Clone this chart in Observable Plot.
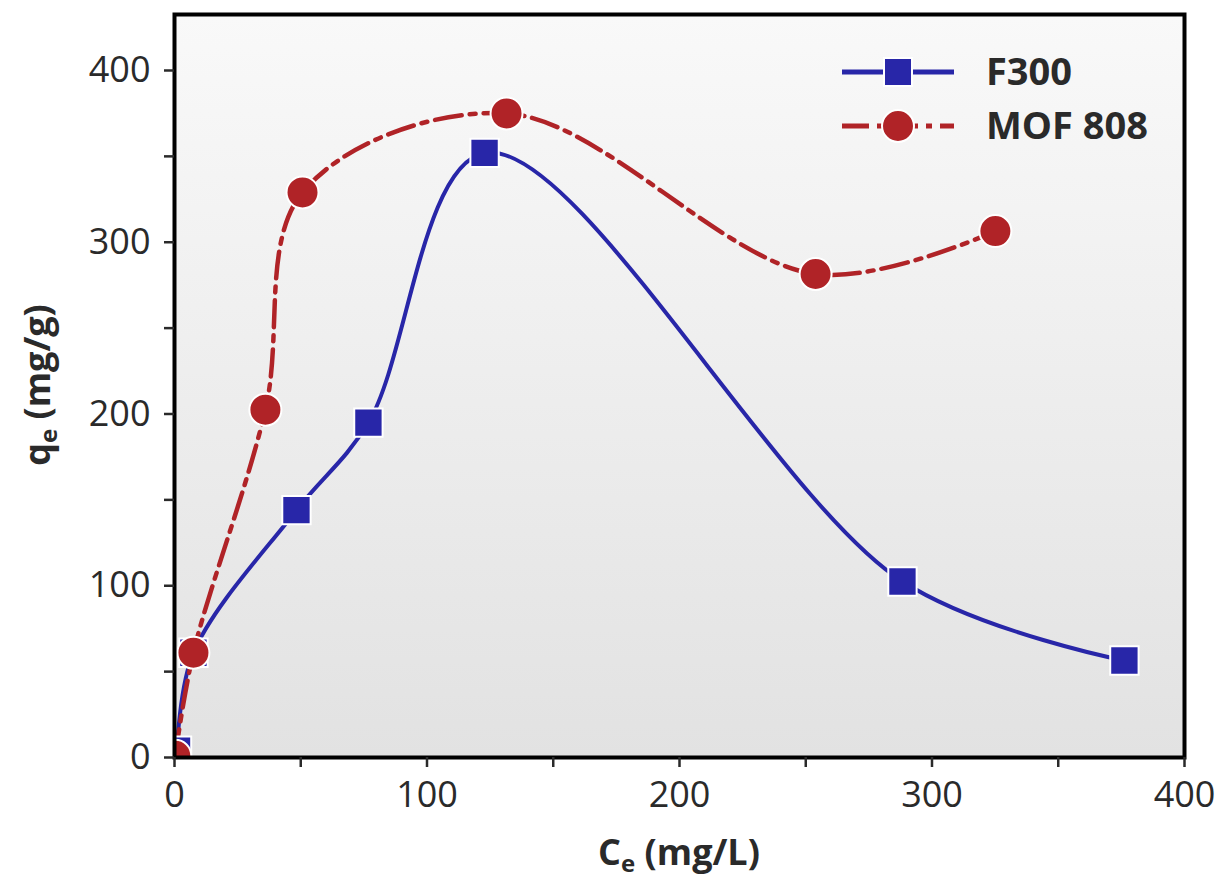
<!DOCTYPE html>
<html><head><meta charset="utf-8">
<script src="https://cdn.jsdelivr.net/npm/d3@7"></script>
<script src="https://cdn.jsdelivr.net/npm/@observablehq/plot@0.6"></script>
<style>
body{margin:0;background:#fff;font-family:"Open Sans",sans-serif;}
</style></head><body><div id="chart"></div>
<script>
const seriesNames = ["F300", "MOF 808"];
const f300Ce = [1, 7.5, 48.3, 76.8, 122.8, 288.3, 376.2];
const f300Qe = [4, 61, 144, 195, 352, 102.5, 56.5];
const mofCe = [0.3, 7.5, 36, 50.7, 131.5, 253.9, 325.1];
const mofQe = [1, 61, 202.5, 329, 375, 281.5, 306.5];
const xTicks = [0, 50, 100, 150, 200, 250, 300, 350, 400];
const yTicks = [0, 50, 100, 150, 200, 250, 300, 350, 400];
const colors = {"F300": "#2826a8", "MOF 808": "#b02327"};
const dashPattern = "27,8,6,8";

const f300 = f300Ce.map((c, i) => ({ce: c, qe: f300Qe[i]}));
const mof = mofCe.map((c, i) => ({ce: c, qe: mofQe[i]}));

const W = 1220, H = 877;
const chart = Plot.plot({
  width: W, height: H,
  marginLeft: 174, marginRight: 36, marginTop: 14, marginBottom: 120,
  style: {fontFamily: "Open Sans", background: "transparent", overflow: "visible"},
  x: {domain: [0, 400]},
  y: {domain: [0, 432.6]},
  marks: [
    Plot.frame({fill: "url(#bggrad)", stroke: null}),
    Plot.line(f300, {x: "ce", y: "qe", stroke: colors["F300"], strokeWidth: 4, curve: "catmull-rom", clip: "frame"}),
    Plot.line(mof, {x: "ce", y: "qe", stroke: colors["MOF 808"], strokeWidth: 4.5, curve: "catmull-rom", strokeDasharray: dashPattern, clip: "frame"}),
    Plot.dot(f300, {x: "ce", y: "qe", symbol: "square", r: 16, fill: colors["F300"], stroke: "white", strokeWidth: 2, clip: "frame"}),
    Plot.dot(mof, {x: "ce", y: "qe", symbol: "circle", r: 16, fill: colors["MOF 808"], stroke: "white", strokeWidth: 2, clip: "frame"}),
    Plot.frame({stroke: "black", strokeWidth: 4}),
    Plot.axisX({ticks: xTicks, tickFormat: d => d % 100 === 0 ? d : "", tickSize: 10, tickPadding: 14, fontSize: 36, label: null, strokeWidth: 2.5, color: "#2a2a2a"}),
    Plot.axisY({ticks: yTicks, tickFormat: d => d % 100 === 0 ? d : "", tickSize: 10, tickPadding: 14, fontSize: 36, label: null, strokeWidth: 2.5, color: "#2a2a2a"})
  ]
});
document.getElementById("chart").appendChild(chart);

const svg = d3.select(chart);
const defs = svg.insert("defs", ":first-child");
const g = defs.append("linearGradient").attr("id", "bggrad").attr("x1", 0).attr("y1", 0).attr("x2", 0).attr("y2", 1);
g.append("stop").attr("offset", "0%").attr("stop-color", "#f9f9f9");
g.append("stop").attr("offset", "100%").attr("stop-color", "#e2e2e2");

// axis titles
const xt = svg.append("text").attr("x", 679).attr("y", 865).attr("text-anchor", "middle")
  .attr("font-size", 36).attr("font-weight", 700).attr("fill", "#2a2a2a");
xt.append("tspan").text("C");
xt.append("tspan").attr("font-size", 24).attr("dy", 7).text("e");
xt.append("tspan").attr("dy", -7).text(" (mg/L)");

const yt = svg.append("text").attr("transform", "translate(50,385) rotate(-90)").attr("text-anchor", "middle")
  .attr("font-size", 36).attr("font-weight", 700).attr("fill", "#2a2a2a");
yt.append("tspan").text("q");
yt.append("tspan").attr("font-size", 24).attr("dy", 7).text("e");
yt.append("tspan").attr("dy", -7).text(" (mg/g)");

// legend
const lg = svg.append("g").attr("text-anchor", "start");
const rows = [
  {name: seriesNames[0], y: 72, sym: "square", dash: null},
  {name: seriesNames[1], y: 126, sym: "circle", dash: dashPattern}
];
rows.forEach(r => {
  lg.append("line").attr("x1", 842).attr("x2", 954).attr("y1", r.y).attr("y2", r.y)
    .attr("stroke", colors[r.name]).attr("stroke-width", 5).attr("stroke-dasharray", r.dash);
  if (r.sym === "square") {
    lg.append("rect").attr("x", 884).attr("y", r.y - 14).attr("width", 28).attr("height", 28)
      .attr("fill", colors[r.name]).attr("stroke", "white").attr("stroke-width", 2);
  } else {
    lg.append("circle").attr("cx", 898).attr("cy", r.y).attr("r", 16)
      .attr("fill", colors[r.name]).attr("stroke", "white").attr("stroke-width", 2);
  }
  lg.append("text").attr("x", 986).attr("y", r.y + 13).attr("font-size", 38).attr("font-weight", 700)
    .attr("text-anchor", "start").attr("fill", "#2a2a2a").text(r.name);
});
</script></body></html>
